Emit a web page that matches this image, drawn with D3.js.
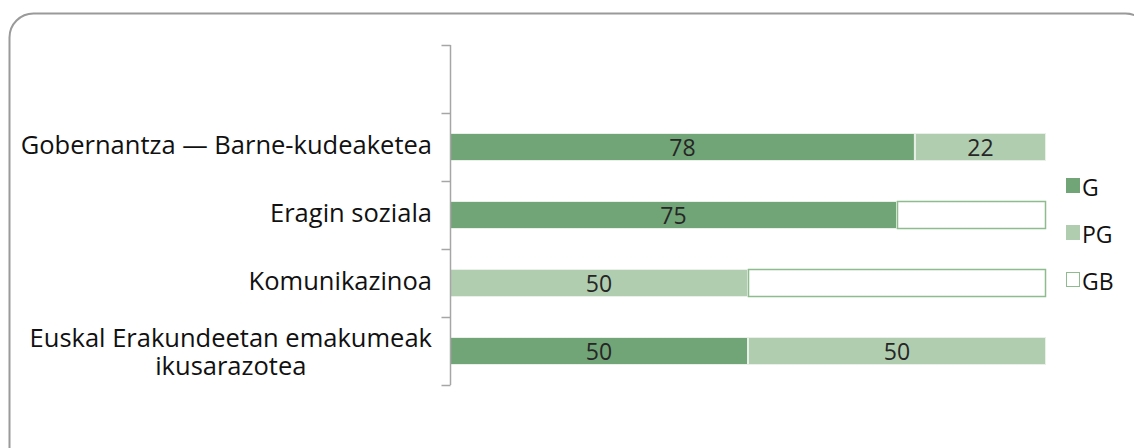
<!DOCTYPE html>
<html><head><meta charset="utf-8">
<script src="https://cdn.jsdelivr.net/npm/d3@7"></script>
<style>body{margin:0;background:#fff}svg{display:block}text{font-family:"Open Sans","Noto Sans",sans-serif}</style>
</head><body>
<svg id="c" width="1134" height="448"></svg>
<script>
const categories = ["", "Gobernantza — Barne-kudeaketea", "Eragin soziala", "Komunikazinoa", "Euskal Erakundeetan emakumeak ikusarazotea"];
const seriesNames = ["G", "PG", "GB"];
const G  = [null, 78, 75, 0, 50];
const PG = [null, 22, 0, 50, 50];
const GB = [null, 0, 25, 50, 0];
const labelLines = [[""], ["Gobernantza — Barne-kudeaketea"], ["Eragin soziala"], ["Komunikazinoa"], ["Euskal Erakundeetan emakumeak", "ikusarazotea"]];

const colors = {G: "#71a476", PG: "#b0cdb0", GB: "#ffffff"};
const strokes = {G: "#e8f0e8", PG: "#e8f0e8", GB: "#8fbc8f"};

const svg = d3.select("#c");
svg.append("rect").attr("x", 9.5).attr("y", 13.5).attr("width", 1140).attr("height", 470)
  .attr("rx", 24).attr("fill", "#fff").attr("stroke", "#9a9a9a").attr("stroke-width", 2);

const x = d3.scaleLinear().domain([0, 100]).range([450, 1046]);
const y = d3.scaleBand().domain(d3.range(categories.length)).range([45, 385]).paddingInner(0).paddingOuter(0);
const barH = 28;

const rows = categories.map((c, i) => ({i, G: G[i], PG: PG[i], GB: GB[i]})).filter(d => d.G !== null);
const stack = d3.stack().keys(seriesNames)(rows);

stack.forEach(layer => {
  const k = layer.key;
  layer.forEach(s => {
    const d = s.data;
    if (s[1] - s[0] <= 0) return;
    const yc = y(d.i) + y.bandwidth() / 2;
    svg.append("rect")
      .attr("x", x(s[0]) + 0.5).attr("y", yc - barH / 2 + 0.5)
      .attr("width", x(s[1]) - x(s[0]) - 1).attr("height", barH - 1)
      .attr("fill", colors[k]).attr("stroke", strokes[k]).attr("stroke-width", k === "GB" ? 1.5 : 1);
    if (k !== "GB") {
      svg.append("text").attr("x", (x(s[0]) + x(s[1])) / 2).attr("y", yc + 9)
        .attr("text-anchor", "middle").attr("font-size", 23).attr("fill", "#262626")
        .text(s[1] - s[0]);
    }
  });
});

// axis
const ag = svg.append("g").attr("transform", "translate(450.5,0)");
ag.append("line").attr("x1", 0).attr("x2", 0).attr("y1", 45).attr("y2", 385).attr("stroke", "#a6a6a6").attr("stroke-width", 1.5);
const tickYs = d3.range(categories.length + 1).map(i => 45 + i * y.step());
ag.selectAll(".tk").data(tickYs).join("line").attr("class", "tk")
  .attr("x1", -9).attr("x2", 0).attr("y1", d => Math.round(d) + 0.5).attr("y2", d => Math.round(d) + 0.5)
  .attr("stroke", "#a6a6a6").attr("stroke-width", 1.5);

// category labels: one text element per category, lines as tspans centered within a block right-aligned at 432
labelLines.forEach((lines, i) => {
  if (!lines[0]) return;
  const yc = y(i) + y.bandwidth() / 2;
  const lh = 28;
  const n = lines.length;
  const t = svg.append("text").attr("text-anchor", "middle").attr("font-size", 25.5).attr("fill", "#111");
  const spans = lines.map((ln, j) => t.append("tspan")
    .attr("y", yc + 7 + j * lh - (n - 1) * 11).text(ln));
  const w = d3.max(spans, s => s.node().getComputedTextLength());
  spans.forEach(s => s.attr("x", 432 - w / 2));
});

// legend
seriesNames.forEach((k, j) => {
  const ly = 178 + j * 47;
  svg.append("rect").attr("x", 1066.5).attr("y", ly + 0.5).attr("width", 13).attr("height", 14)
    .attr("fill", colors[k]).attr("stroke", k === "GB" ? "#8fbc8f" : colors[k]).attr("stroke-width", 1);
  svg.append("text").attr("x", 1082).attr("y", ly + 18).attr("font-size", 23).attr("fill", "#111").text(k);
});
</script>
</body></html>
